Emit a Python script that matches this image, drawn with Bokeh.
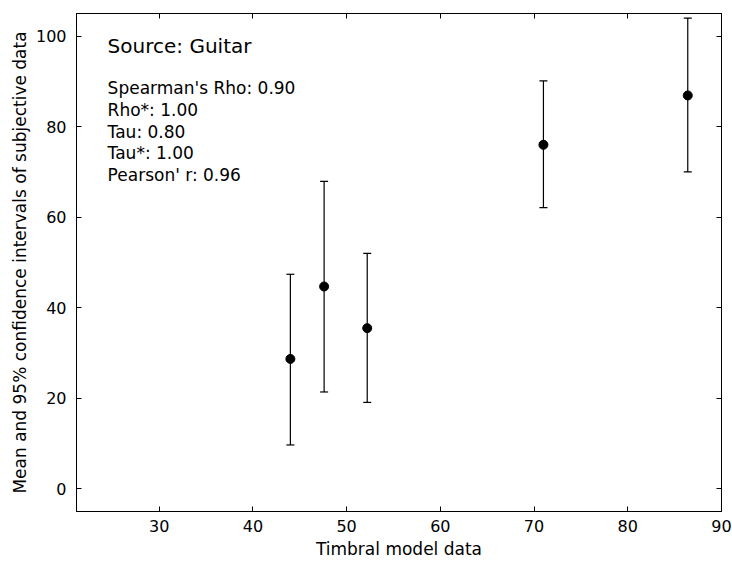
from bokeh.plotting import figure
from bokeh.models import ColumnDataSource, Whisker, LinearAxis, SingleIntervalTicker, Range1d, TeeHead
from bokeh.embed import file_html
from bokeh.resources import INLINE
from bokeh.core.properties import value

# ---- data ----
model_x = [44.0, 47.6, 52.2, 71.0, 86.4]
means = [28.7, 44.7, 35.5, 76.0, 86.9]
ci_lower = [9.7, 21.4, 19.1, 62.1, 70.0]
ci_upper = [47.4, 67.9, 52.0, 90.1, 104.0]
source_name = "Source: Guitar"
stat_names = ["Spearman's Rho", "Rho*", "Tau", "Tau*", "Pearson' r"]
stat_values = [0.90, 1.00, 0.80, 1.00, 0.96]
x_label = "Timbral model data"
y_label = "Mean and 95% confidence intervals of subjective data"

FONT = "DejaVu Sans"

p = figure(width=732, height=561, output_backend="svg", toolbar_location=None,
           x_range=Range1d(21.18, 90), y_range=Range1d(-5, 105),
           x_axis_location=None, y_axis_location=None,
           min_border_left=76, min_border_top=13, min_border_right=11, min_border_bottom=49)
p.grid.visible = False
p.outline_line_color = "black"
p.outline_line_width = 1
p.background_fill_color = "white"
p.border_fill_color = "white"

def make_axis(interval, show_labels, label=None):
    ax = LinearAxis(ticker=SingleIntervalTicker(interval=interval))
    ax.major_tick_in = 5
    ax.major_tick_out = 0
    ax.minor_tick_line_color = None
    ax.axis_line_color = "black"
    ax.major_tick_line_color = "black"
    if show_labels:
        ax.major_label_text_font = FONT
        ax.major_label_text_font_size = "16px"
        ax.major_label_text_color = "black"
    else:
        ax.major_label_text_font_size = "1px"
        ax.major_label_text_color = None
        ax.major_label_standoff = 0
    if label:
        ax.axis_label = label
        ax.axis_label_text_font = FONT
        ax.axis_label_text_font_size = "17px"
        ax.axis_label_text_font_style = "normal"
        ax.axis_label_text_color = "black"
    return ax

xb = make_axis(10, True, x_label)
xb.major_label_standoff = 4
xb.axis_label_standoff = 4
yl = make_axis(20, True, y_label)
yl.major_label_standoff = 6
yl.axis_label_standoff = 3
p.add_layout(xb, "below")
p.add_layout(yl, "left")
p.add_layout(make_axis(10, False), "above")
p.add_layout(make_axis(20, False), "right")

src = ColumnDataSource(dict(x=model_x, m=means, lo=ci_lower, hi=ci_upper))
w = Whisker(source=src, base="x", lower="lo", upper="hi", dimension="height",
            line_color="black", line_width=1.2,
            upper_head=TeeHead(size=8, line_color="black", line_width=1.2),
            lower_head=TeeHead(size=8, line_color="black", line_width=1.2))
p.add_layout(w)
p.scatter(x="x", y="m", source=src, size=9, fill_color="black", line_color="black")

text_x = 24.5
p.text(x=[text_x], y=[97.9], text=[source_name], text_font=value(FONT),
       text_font_size="20px", text_baseline="alphabetic", text_color="black")
stat_lines = [f"{n}: {v:.2f}" for n, v in zip(stat_names, stat_values)]
stat_y = [88.5 - i * 4.8 for i in range(len(stat_lines))]
p.text(x=[text_x] * len(stat_lines), y=stat_y, text=stat_lines, text_font=value(FONT),
       text_font_size="17px", text_baseline="alphabetic", text_color="black")

open("out.html", "w").write(file_html(p, INLINE))
